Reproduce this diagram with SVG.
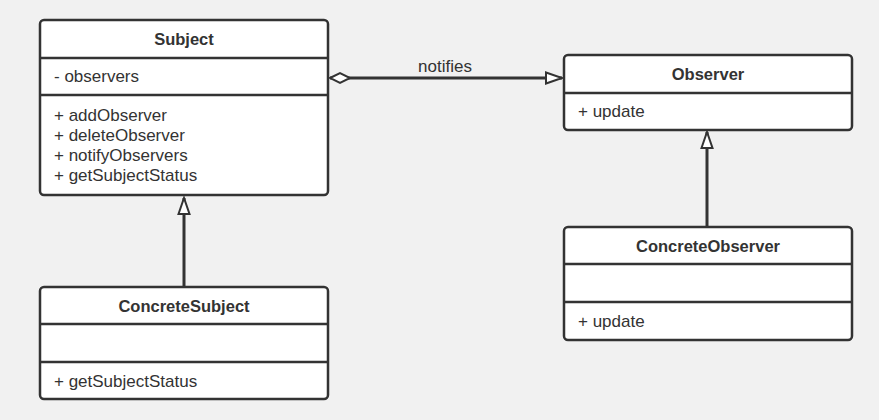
<svg xmlns="http://www.w3.org/2000/svg" width="879" height="420" viewBox="0 0 879 420">
<style>
.box{fill:#fff;stroke:#333;stroke-width:2.5}
.div{stroke:#333;stroke-width:2.5}
.t{font-family:"Liberation Sans",Arial,sans-serif;font-size:16.5px;font-weight:bold;fill:#333;text-anchor:middle}
.m{font-family:"Liberation Sans",Arial,sans-serif;font-size:17px;fill:#333}
.edge{stroke:#333;stroke-width:3;fill:none}
</style>
<defs>
<marker id="tri" markerWidth="20" markerHeight="14" refX="17" refY="7" orient="auto" markerUnits="userSpaceOnUse">
<path d="M1,1.5 L17,7 L1,12.5 Z" fill="#fff" stroke="#333" stroke-width="2"/>
</marker>
<marker id="dia" markerWidth="26" markerHeight="14" refX="2" refY="7" orient="auto" markerUnits="userSpaceOnUse">
<path d="M2,7 L12,2 L22,7 L12,12 Z" fill="#fff" stroke="#333" stroke-width="2"/>
</marker>
</defs>
<rect width="879" height="420" fill="#f1f1f1"/>
<g id="connectors">
<line class="edge" x1="330" y1="78" x2="562" y2="78" marker-start="url(#dia)" marker-end="url(#tri)"/>
<text class="m" x="445" y="72" text-anchor="middle">notifies</text>
<line class="edge" x1="184" y1="287" x2="184" y2="198" marker-end="url(#tri)"/>
<line class="edge" x1="707" y1="227" x2="707" y2="132" marker-end="url(#tri)"/>
</g>
<g id="subject">
<rect class="box" x="40" y="20" width="288" height="175" rx="4"/>
<line class="div" x1="40" y1="58" x2="328" y2="58"/>
<line class="div" x1="40" y1="95" x2="328" y2="95"/>
<text class="t" x="184" y="45">Subject</text>
<text class="m" x="54" y="82">- observers</text>
<text class="m" x="54" y="121">+ addObserver</text>
<text class="m" x="54" y="141">+ deleteObserver</text>
<text class="m" x="54" y="161">+ notifyObservers</text>
<text class="m" x="54" y="181">+ getSubjectStatus</text>
</g>
<g id="observer">
<rect class="box" x="564" y="55" width="288" height="75" rx="4"/>
<line class="div" x1="564" y1="93" x2="852" y2="93"/>
<text class="t" x="708" y="80">Observer</text>
<text class="m" x="578" y="117">+ update</text>
</g>
<g id="concreteSubject">
<rect class="box" x="40" y="287" width="288" height="112" rx="4"/>
<line class="div" x1="40" y1="324" x2="328" y2="324"/>
<line class="div" x1="40" y1="362" x2="328" y2="362"/>
<text class="t" x="184" y="312">ConcreteSubject</text>
<text class="m" x="54" y="387">+ getSubjectStatus</text>
</g>
<g id="concreteObserver">
<rect class="box" x="564" y="227" width="288" height="113" rx="4"/>
<line class="div" x1="564" y1="264" x2="852" y2="264"/>
<line class="div" x1="564" y1="302" x2="852" y2="302"/>
<text class="t" x="708" y="252">ConcreteObserver</text>
<text class="m" x="578" y="327">+ update</text>
</g>
</svg>
